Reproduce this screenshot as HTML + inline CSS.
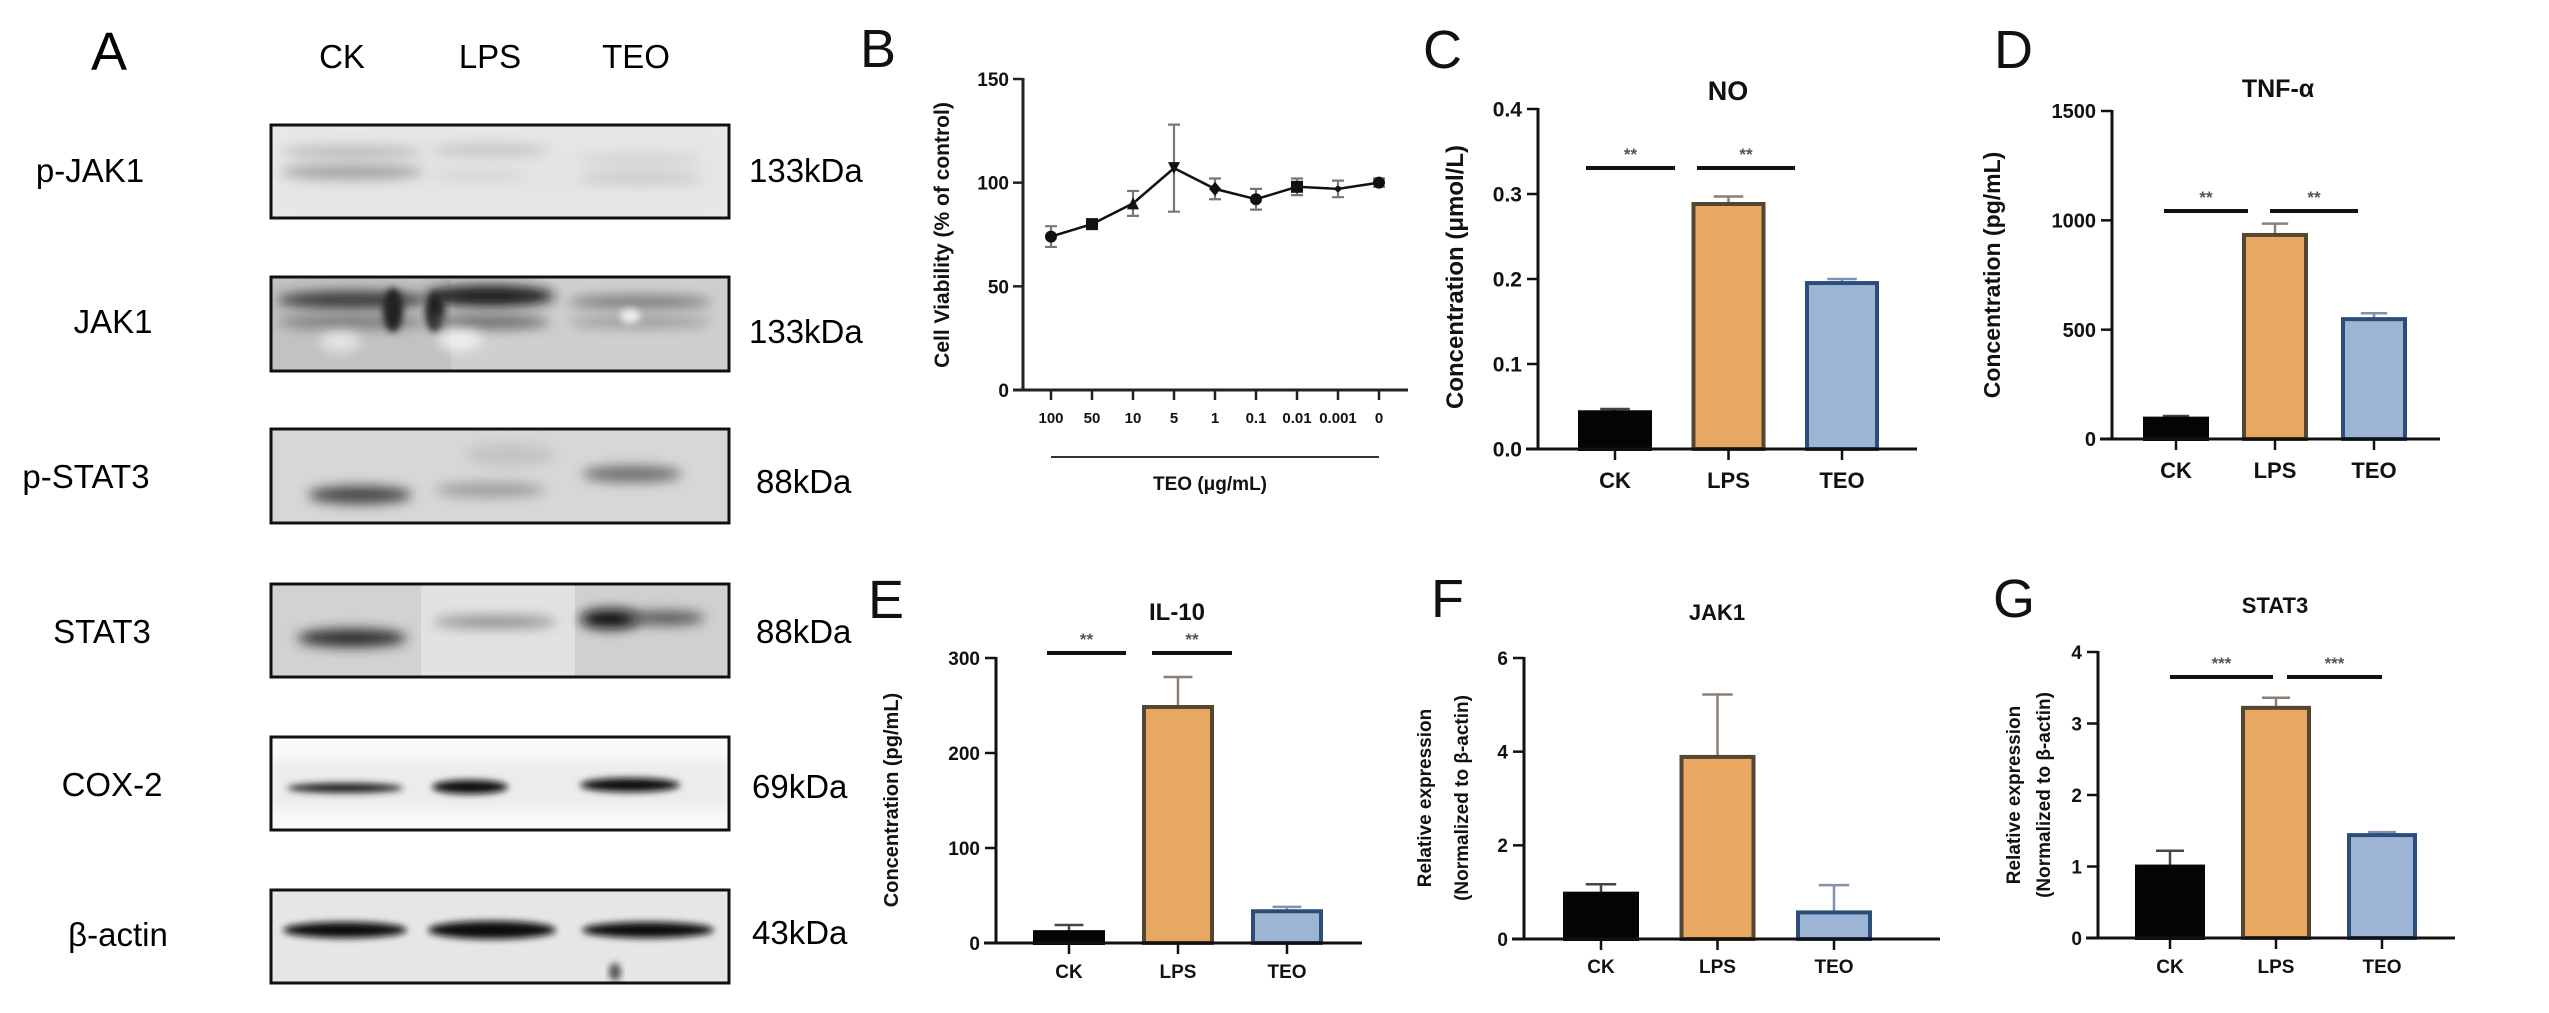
<!DOCTYPE html>
<html><head><meta charset="utf-8"><title>TEO figure</title>
<style>
html,body{margin:0;padding:0;background:#fff;}
body{width:2549px;height:1008px;overflow:hidden;font-family:"Liberation Sans",Arial,sans-serif;}
svg text{font-family:"Liberation Sans",Arial,sans-serif;}
</style></head>
<body>
<svg id="fig" width="2549" height="1008" viewBox="0 0 2549 1008" xmlns="http://www.w3.org/2000/svg">
<defs>
<filter id="bl6" x="-30%" y="-100%" width="160%" height="300%"><feGaussianBlur stdDeviation="6"/></filter>
<filter id="bl3" x="-30%" y="-100%" width="160%" height="300%"><feGaussianBlur stdDeviation="3.5"/></filter>
<filter id="bl12" x="-30%" y="-100%" width="160%" height="300%"><feGaussianBlur stdDeviation="12"/></filter>
<clipPath id="c1"><rect x="271" y="125" width="458" height="93"/></clipPath>
<clipPath id="c2"><rect x="271" y="277" width="458" height="94"/></clipPath>
<clipPath id="c3"><rect x="271" y="429" width="458" height="94"/></clipPath>
<clipPath id="c4"><rect x="271" y="584" width="458" height="93"/></clipPath>
<clipPath id="c5"><rect x="271" y="737" width="458" height="93"/></clipPath>
<clipPath id="c6"><rect x="271" y="890" width="458" height="93"/></clipPath>
</defs>

<!-- Panel A: western blots -->
<g>
<text x="91" y="70" font-size="54">A</text>
<text x="342" y="68" font-size="33" text-anchor="middle">CK</text>
<text x="490" y="68" font-size="33" text-anchor="middle">LPS</text>
<text x="636" y="68" font-size="33" text-anchor="middle">TEO</text>

<text x="90" y="182" font-size="33" text-anchor="middle">p-JAK1</text>
<text x="113" y="333" font-size="33" text-anchor="middle">JAK1</text>
<text x="86" y="488" font-size="33" text-anchor="middle">p-STAT3</text>
<text x="102" y="643" font-size="33" text-anchor="middle">STAT3</text>
<text x="112" y="796" font-size="33" text-anchor="middle">COX-2</text>
<text x="118" y="946" font-size="33" text-anchor="middle">β-actin</text>

<text x="749" y="182" font-size="33">133kDa</text>
<text x="749" y="343" font-size="33">133kDa</text>
<text x="756" y="493" font-size="33">88kDa</text>
<text x="756" y="643" font-size="33">88kDa</text>
<text x="752" y="798" font-size="33">69kDa</text>
<text x="752" y="944" font-size="33">43kDa</text>

<g clip-path="url(#c1)">
<rect x="271" y="125" width="458" height="93" fill="#ececec"/>
<rect x="271" y="125" width="458" height="93" fill="#dedede" opacity="0.5" filter="url(#bl12)"/>
<ellipse cx="352" cy="152" rx="70" ry="6" fill="#b8b8b8" filter="url(#bl6)"/>
<ellipse cx="352" cy="172" rx="72" ry="7" fill="#9e9e9e" filter="url(#bl6)"/>
<ellipse cx="490" cy="150" rx="60" ry="5" fill="#bdbdbd" filter="url(#bl6)"/>
<ellipse cx="480" cy="175" rx="50" ry="5" fill="#d4d4d4" filter="url(#bl6)"/>
<ellipse cx="640" cy="160" rx="60" ry="5" fill="#cecece" filter="url(#bl6)"/>
<ellipse cx="640" cy="178" rx="62" ry="5" fill="#c4c4c4" filter="url(#bl6)"/>
</g>
<rect x="271" y="125" width="458" height="93" fill="none" stroke="#111" stroke-width="3"/>

<g clip-path="url(#c2)">
<rect x="271" y="277" width="458" height="94" fill="#cfcfcf"/>
<rect x="271" y="277" width="180" height="94" fill="#c2c2c2"/>
<ellipse cx="352" cy="300" rx="75" ry="9" fill="#3a3a3a" filter="url(#bl6)"/>
<ellipse cx="352" cy="322" rx="75" ry="7" fill="#7a7a7a" filter="url(#bl6)"/>
<ellipse cx="393" cy="310" rx="10" ry="22" fill="#222" filter="url(#bl3)"/>
<ellipse cx="490" cy="296" rx="65" ry="11" fill="#1c1c1c" filter="url(#bl6)"/>
<ellipse cx="435" cy="312" rx="10" ry="20" fill="#222" filter="url(#bl3)"/>
<ellipse cx="490" cy="322" rx="60" ry="7" fill="#6a6a6a" filter="url(#bl6)"/>
<ellipse cx="640" cy="302" rx="72" ry="7" fill="#7d7d7d" filter="url(#bl6)"/>
<ellipse cx="640" cy="322" rx="72" ry="6" fill="#999" filter="url(#bl6)"/>
<ellipse cx="460" cy="340" rx="22" ry="10" fill="#f0f0f0" filter="url(#bl6)"/>
<ellipse cx="340" cy="342" rx="20" ry="10" fill="#e6e6e6" filter="url(#bl6)"/>
<ellipse cx="630" cy="316" rx="10" ry="7" fill="#eee" filter="url(#bl3)"/>
</g>
<rect x="271" y="277" width="458" height="94" fill="none" stroke="#111" stroke-width="3"/>

<g clip-path="url(#c3)">
<rect x="271" y="429" width="458" height="94" fill="#d7d7d7"/>
<ellipse cx="360" cy="495" rx="52" ry="9" fill="#454545" filter="url(#bl6)"/>
<ellipse cx="490" cy="490" rx="55" ry="7" fill="#9a9a9a" filter="url(#bl6)"/>
<ellipse cx="510" cy="455" rx="45" ry="12" fill="#c4c4c4" filter="url(#bl6)"/>
<ellipse cx="632" cy="474" rx="50" ry="8" fill="#6a6a6a" filter="url(#bl6)"/>
</g>
<rect x="271" y="429" width="458" height="94" fill="none" stroke="#111" stroke-width="3"/>

<g clip-path="url(#c4)">
<rect x="271" y="584" width="458" height="93" fill="#e2e2e2"/>
<rect x="271" y="584" width="150" height="93" fill="#d2d2d2"/>
<rect x="575" y="584" width="154" height="93" fill="#d0d0d0"/>
<ellipse cx="352" cy="638" rx="55" ry="9" fill="#2a2a2a" filter="url(#bl6)"/>
<ellipse cx="495" cy="622" rx="62" ry="6" fill="#8a8a8a" filter="url(#bl6)"/>
<ellipse cx="610" cy="619" rx="30" ry="10" fill="#0c0c0c" filter="url(#bl6)"/>
<ellipse cx="665" cy="618" rx="40" ry="7" fill="#555" filter="url(#bl6)"/>
</g>
<rect x="271" y="584" width="458" height="93" fill="none" stroke="#111" stroke-width="3"/>

<g clip-path="url(#c5)">
<rect x="271" y="737" width="458" height="93" fill="#fafafa"/>
<rect x="271" y="760" width="458" height="50" fill="#ececec" filter="url(#bl6)"/>
<ellipse cx="345" cy="788" rx="58" ry="5" fill="#222" filter="url(#bl3)"/>
<ellipse cx="470" cy="787" rx="38" ry="7" fill="#111" filter="url(#bl3)"/>
<ellipse cx="630" cy="785" rx="50" ry="7" fill="#111" filter="url(#bl3)"/>
</g>
<rect x="271" y="737" width="458" height="93" fill="none" stroke="#111" stroke-width="3"/>

<g clip-path="url(#c6)">
<rect x="271" y="890" width="458" height="93" fill="#e6e6e6"/>
<ellipse cx="345" cy="930" rx="62" ry="8" fill="#0e0e0e" filter="url(#bl3)"/>
<ellipse cx="492" cy="930" rx="64" ry="9" fill="#0e0e0e" filter="url(#bl3)"/>
<ellipse cx="648" cy="930" rx="66" ry="8" fill="#111" filter="url(#bl3)"/>
<ellipse cx="615" cy="972" rx="6" ry="9" fill="#555" filter="url(#bl3)"/>
</g>
<rect x="271" y="890" width="458" height="93" fill="none" stroke="#111" stroke-width="3"/>
</g>

<g id="charts"></g>
</svg>

<script>
// ---------- Panel B data ----------
const bCategories = ["100", "50", "10", "5", "1", "0.1", "0.01", "0.001", "0"];
const bValues = [74, 80, 90, 107, 97, 92, 98, 97, 100];
const bErrors = [5, 1, 6, 21, 5, 5, 4, 4, 2];
const bMarkers = ["circle", "square", "tri-up", "tri-down", "diamond", "circle", "square", "circle", "circle"];
const bTicks = [0, 50, 100, 150];

// ---------- Bar panel data ----------
const groups = ["CK", "LPS", "TEO"];
const cValues = [0.045, 0.29, 0.197];
const cErrors = [0.002, 0.007, 0.003];
const cTicks = [0, 0.1, 0.2, 0.3, 0.4];
const cTickLabels = ["0.0", "0.1", "0.2", "0.3", "0.4"];
const dValues = [100, 940, 555];
const dErrors = [5, 45, 20];
const dTicks = [0, 500, 1000, 1500];
const dTickLabels = ["0", "500", "1000", "1500"];
const eValues = [13, 250, 35];
const eErrors = [6, 30, 3];
const eTicks = [0, 100, 200, 300];
const eTickLabels = ["0", "100", "200", "300"];
const fValues = [1.0, 3.92, 0.6];
const fErrors = [0.17, 1.3, 0.55];
const fTicks = [0, 2, 4, 6];
const fTickLabels = ["0", "2", "4", "6"];
const gValues = [1.02, 3.24, 1.46];
const gErrors = [0.2, 0.12, 0.02];
const gTicks = [0, 1, 2, 3, 4];
const gTickLabels = ["0", "1", "2", "3", "4"];

const NS = "http://www.w3.org/2000/svg";
const root = document.getElementById("charts");
function mk(tag, attrs, parent) {
  const el = document.createElementNS(NS, tag);
  for (const k in attrs) el.setAttribute(k, attrs[k]);
  (parent || root).appendChild(el);
  return el;
}
function txt(parent, x, y, s, size, weight, anchor, extra) {
  const t = mk("text", Object.assign({x: x, y: y, "font-size": size, "font-weight": weight || "normal", "text-anchor": anchor || "middle", fill: "#111"}, extra || {}), parent);
  t.textContent = s;
  return t;
}

const fills = ["#050505", "#e8a862", "#9db4d4"];
const strokes = ["#050505", "#554634", "#2a4d7a"];
const errCols = ["#444", "#8c7f72", "#7e93b0"];

function barPanel(p, vals, errs, ticks, tickLabels) {
  const g = mk("g", {});
  
  
  const ymax = ticks[ticks.length - 1];
  const yS = v => p.y0 - (v / ymax) * (p.y0 - p.yTop);
  const xS = i => p.xc0 + i * p.dx;
  // letter
  const L = txt(g, p.lx, p.ly, p.letter, 54, "normal", "start");
  
  
  const T = txt(g, p.tx, p.ty, p.title, p.titleSize, "bold");
  
  
  // y title
  p.ytitle.forEach((line, k) => {
    const yt = txt(g, 0, 0, line, p.ytSize, "bold", "middle", {transform: "translate(" + p.ytx[k] + "," + p.yty + ") rotate(-90)"});
    
    
  });
  // bars
  vals.forEach((v, i) => {
    const x = xS(i) - p.bw / 2;
    const top = yS(v);
    const eTop = yS(v + errs[i]);
    const el = mk("line", {x1: xS(i), x2: xS(i), y1: top, y2: eTop, stroke: errCols[i], "stroke-width": 2.5}, g);
    
    
    const cap = mk("line", {x1: xS(i) - p.bw * 0.2, x2: xS(i) + p.bw * 0.2, y1: eTop, y2: eTop, stroke: errCols[i], "stroke-width": 2.5}, g);
    
    
    const r = mk("rect", {x: x + 2, y: top + 1.5, width: p.bw - 4, height: p.y0 - top - 1.5, fill: fills[i], stroke: strokes[i], "stroke-width": 4}, g);
    
    
  });
  // axes
  const ya = mk("line", {x1: p.ax, x2: p.ax, y1: p.yTop - 1, y2: p.y0 + 1.5, stroke: "#111", "stroke-width": 3}, g);
  
  
  const xa = mk("line", {x1: p.ax - 12, x2: p.xEnd, y1: p.y0, y2: p.y0, stroke: "#111", "stroke-width": 3}, g);
  
  
  ticks.forEach((t, k) => {
    const y = yS(t);
    const tk = mk("line", {x1: p.ax - 11, x2: p.ax, y1: y, y2: y, stroke: "#111", "stroke-width": 2.5}, g);
    
    
    const tl = txt(g, p.ax - 16, y + p.tickSize * 0.36, tickLabels[k], p.tickSize, "bold", "end");
    
    
  });
  groups.forEach((c, i) => {
    const tk = mk("line", {x1: xS(i), x2: xS(i), y1: p.y0, y2: p.y0 + 11, stroke: "#111", "stroke-width": 2.5}, g);
    
    
    const cl = txt(g, xS(i), p.catY, c, p.catSize, "bold");
    
    
  });
  // significance
  if (p.sig) {
    p.sig.forEach((s, k) => {
      const ln = mk("line", {x1: s[0], x2: s[1], y1: p.sigY, y2: p.sigY, stroke: "#111", "stroke-width": 4}, g);
      
      
      const st = txt(g, (s[0] + s[1]) / 2, p.sigY - 8, p.stars, 17, "bold", "middle", {fill: "#555"});
      
      
    });
  }
}

barPanel({id: "c", letter: "C", lx: 1423, ly: 68, title: "NO", tx: 1728, ty: 100, titleSize: 27,
  ytitle: ["Concentration (μmol/L)"], ytx: [1463], yty: 277, ytSize: 24,
  ax: 1538, y0: 449, yTop: 109, xEnd: 1917, xc0: 1615, dx: 113.5, bw: 74,
  tickSize: 21, catY: 488, catSize: 22, sig: [[1586, 1675], [1697, 1795]], sigY: 168, stars: "**"},
  cValues, cErrors, cTicks, cTickLabels);

barPanel({id: "d", letter: "D", lx: 1994, ly: 68, title: "TNF-α", tx: 2278, ty: 97, titleSize: 25,
  ytitle: ["Concentration (pg/mL)"], ytx: [2000], yty: 275, ytSize: 23,
  ax: 2112, y0: 439, yTop: 111, xEnd: 2440, xc0: 2176, dx: 99, bw: 66,
  tickSize: 20, catY: 478, catSize: 22, sig: [[2164, 2248], [2270, 2358]], sigY: 211, stars: "**"},
  dValues, dErrors, dTicks, dTickLabels);

barPanel({id: "e", letter: "E", lx: 868, ly: 618, title: "IL-10", tx: 1177, ty: 620, titleSize: 24,
  ytitle: ["Concentration (pg/mL)"], ytx: [898], yty: 800, ytSize: 20,
  ax: 996, y0: 943, yTop: 658, xEnd: 1362, xc0: 1069, dx: 109, bw: 72,
  tickSize: 19, catY: 978, catSize: 19, sig: [[1047, 1126], [1152, 1232]], sigY: 653, stars: "**"},
  eValues, eErrors, eTicks, eTickLabels);

barPanel({id: "f", letter: "F", lx: 1431, ly: 617, title: "JAK1", tx: 1717, ty: 620, titleSize: 22,
  ytitle: ["Relative expression", "(Normalized to β-actin)"], ytx: [1431, 1468], yty: 798, ytSize: 19,
  ax: 1524, y0: 939, yTop: 658, xEnd: 1940, xc0: 1601, dx: 116.5, bw: 76,
  tickSize: 19, catY: 973, catSize: 19, sig: null},
  fValues, fErrors, fTicks, fTickLabels);

barPanel({id: "g", letter: "G", lx: 1993, ly: 617, title: "STAT3", tx: 2275, ty: 613, titleSize: 22,
  ytitle: ["Relative expression", "(Normalized to β-actin)"], ytx: [2020, 2050], yty: 795, ytSize: 19,
  ax: 2098, y0: 938, yTop: 652, xEnd: 2455, xc0: 2170, dx: 106, bw: 70,
  tickSize: 19, catY: 973, catSize: 19, sig: [[2170, 2273], [2287, 2382]], sigY: 677, stars: "***"},
  gValues, gErrors, gTicks, gTickLabels);

// ---------- Panel B line chart ----------
(function () {
  const g = mk("g", {});
  
  
  const ax = 1023, y0 = 390, yTop = 79, x0 = 1051, dx = 41;
  const ymax = bTicks[bTicks.length - 1];
  const yS = v => y0 - (v / ymax) * (y0 - yTop);
  const xS = i => x0 + i * dx;
  const L = txt(g, 860, 67, "B", 54, "normal", "start");
  
  
  const yt = txt(g, 0, 0, "Cell Viability (% of control)", 21, "bold", "middle", {transform: "translate(949,235) rotate(-90)"});
  
  
  const ya = mk("line", {x1: ax, x2: ax, y1: yTop - 1, y2: y0 + 1.5, stroke: "#222", "stroke-width": 3}, g);
  
  
  const xa = mk("line", {x1: ax - 10, x2: 1408, y1: y0, y2: y0, stroke: "#222", "stroke-width": 3}, g);
  
  
  bTicks.forEach(t => {
    const tk = mk("line", {x1: ax - 10, x2: ax, y1: yS(t), y2: yS(t), stroke: "#222", "stroke-width": 2.5}, g);
    
    
    const tl = txt(g, ax - 14, yS(t) + 7, String(t), 19, "bold", "end");
    
    
  });
  bCategories.forEach((c, i) => {
    const tk = mk("line", {x1: xS(i), x2: xS(i), y1: y0, y2: y0 + 10, stroke: "#222", "stroke-width": 2.5}, g);
    
    
    const tl = txt(g, xS(i), 423, c, 15, "bold");
    
    
  });
  const ul = mk("line", {x1: xS(0), x2: xS(bCategories.length - 1), y1: 457, y2: 457, stroke: "#333", "stroke-width": 2}, g);
  
  
  const xt = txt(g, 1210, 490, "TEO (μg/mL)", 19, "bold");
  
  
  // error bars
  bValues.forEach((v, i) => {
    const e = mk("path", {d: "M" + xS(i) + "," + yS(v - bErrors[i]) + "V" + yS(v + bErrors[i]) +
      "M" + (xS(i) - 6) + "," + yS(v - bErrors[i]) + "h12M" + (xS(i) - 6) + "," + yS(v + bErrors[i]) + "h12",
      stroke: "#777", "stroke-width": 2.2, fill: "none"}, g);
    
    
  });
  const pts = bValues.map((v, i) => xS(i) + "," + yS(v)).join(" ");
  const ln = mk("polyline", {points: pts, fill: "none", stroke: "#111", "stroke-width": 2.5}, g);
  
  
  bValues.forEach((v, i) => {
    const x = xS(i), y = yS(v), s = 6;
    let m;
    if (bMarkers[i] === "square") m = mk("rect", {x: x - s, y: y - s, width: 2 * s, height: 2 * s, fill: "#111"}, g);
    else if (bMarkers[i] === "tri-up") m = mk("polygon", {points: (x - s) + "," + (y + s) + " " + (x + s) + "," + (y + s) + " " + x + "," + (y - s), fill: "#111"}, g);
    else if (bMarkers[i] === "tri-down") m = mk("polygon", {points: (x - s) + "," + (y - s) + " " + (x + s) + "," + (y - s) + " " + x + "," + (y + s), fill: "#111"}, g);
    else if (bMarkers[i] === "diamond") m = mk("polygon", {points: x + "," + (y - s - 1) + " " + (x + s) + "," + y + " " + x + "," + (y + s + 1) + " " + (x - s) + "," + y, fill: "#111"}, g);
    else m = mk("circle", {cx: x, cy: y, r: i === 7 ? 3 : s, fill: "#111"}, g);
    
    
  });
})();
</script>
</body></html>
